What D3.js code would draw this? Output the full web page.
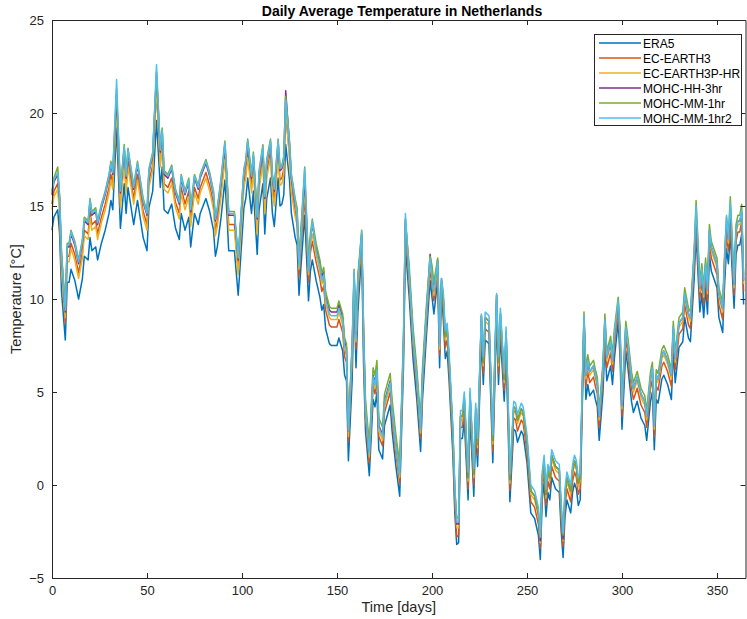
<!DOCTYPE html>
<html><head><meta charset="utf-8">
<script src="https://cdn.jsdelivr.net/npm/d3@7/dist/d3.min.js"></script>
<style>
body{margin:0;background:#fff;}
text{font-family:"Liberation Sans",Arial,sans-serif;}
</style></head>
<body><svg id="c" width="747" height="619"></svg>
<script>
const days = [0,1,3,4,5,7,8,9,10,12,14,16,17,19,20,21,23,24,26,28,30,31,32,34,36,38,39,40,43,45,48,50,51,53,55,57,58,59,61,63,65,67,68,70,72,73,75,77,78,81,83,85,86,87,89,91,92,93,96,98,100,101,102,103,105,106,108,109,111,112,113,115,116,117,119,120,121,122,123,125,126,128,
129,130,131,133,135,136,137,139,141,142,143,144,146,147,150,151,153,154,155,156,158,159,160,161,163,164,
165,167,169,170,171,172,174,175,178,179,181,183,185,186,188,190,192,194,195,197,199,200,201,203,204,
205,206,207,208,209,211,212,213,214,215,216,217,219,220,221,222,223,224,226,227,228,230,232,233,234,235,236,238,239,240,241,243,244,245,247,248,250,252,254,256,257,258,259,260,261,262,263,265,267,268,269,270,271,273,274,275,276,277,278,
280,281,282,283,285,286,287,288,290,291,292,294,295,296,298,299,300,302,303,305,306,308,310,311,312,313,315,316,317,318,319,321,322,324,326,327,328,330,332,333,335,336,338,339,341,342,343,344,345,346,347,350,351,353,354,355,356,357,359,360,361,362,363,364];

const era5 = [13.7,14.4,14.8,13.5,10.4,7.8,10.9,10.9,11.6,11.0,10.0,11.1,12.3,12.1,13.3,12.6,12.8,12.1,13.0,13.7,14.6,15.3,14.8,19.2,13.8,16.2,14.6,16.0,14.0,15.3,13.3,12.6,14.9,15.8,19.6,16.0,17.1,14.8,14.6,15.1,13.8,13.2,14.6,13.7,14.4,12.8,14.6,14.0,14.6,15.4,14.7,13.7,12.3,12.8,14.4,16.4,14.7,12.6,12.6,10.2,13.3,14.9,15.4,16.5,14.6,15.8,12.4,14.8,16.2,13.5,15.4,16.5,14.6,13.9,16.5,15.0,15.1,15.6,18.3,16.4,14.6,13.3,
12.9,10.2,11.7,14.5,9.9,11.5,12.1,11.0,10.1,9.4,9.7,8.4,7.6,7.5,7.5,7.9,7.2,5.9,5.6,1.3,5.7,10.5,6.3,9.3,12.6,6.4,
2.9,0.5,4.6,4.2,5.0,1.9,1.4,3.2,4.3,2.9,1.0,-0.6,6.4,12.8,10.1,6.8,4.6,1.8,4.6,7.9,11.0,10.1,9.2,11.0,6.3,
10.5,8.8,6.8,7.2,5.6,1.6,-1.5,-3.2,-3.1,2.5,2.5,3.5,-0.8,3.7,1.6,-0.6,2.9,1.0,7.9,5.4,7.8,7.6,1.2,5.2,9.0,5.4,8.0,4.5,7.0,3.4,-0.9,3.0,2.9,2.3,2.9,2.7,1.2,-1.5,-1.8,-2.7,-4.0,-0.8,0.1,-1.7,-0.4,-0.8,0.4,-0.2,-0.4,-2.5,-3.9,-1.7,-0.8,-1.5,-0.4,0.1,-0.2,-1.1,-0.8,
8.3,4.6,5.4,4.8,5.1,4.6,4.2,2.4,5.0,7.6,5.6,6.4,5.4,6.8,8.8,6.8,3.0,7.2,6.4,4.5,3.9,4.5,3.6,3.4,3.2,2.4,4.5,5.0,1.9,4.6,4.4,5.7,5.9,5.4,4.6,7.2,5.5,7.4,7.7,9.0,7.9,7.7,11.1,13.5,9.3,10.3,9.0,10.6,9.2,12.4,11.5,10.6,9.0,8.2,10.8,12.7,11.9,13.5,9.5,12.4,12.9,12.9,13.5,9.7];

const ecEarth3 = [15.1,15.8,16.2,14.9,11.8,8.7,12.3,12.3,13.0,12.4,11.4,12.5,13.7,13.5,14.7,14.0,14.2,13.5,14.4,15.1,16.0,16.7,16.2,20.6,15.2,17.6,16.0,17.4,15.4,16.7,14.7,14.0,16.3,17.2,21.2,17.4,18.5,16.2,16.0,16.5,15.2,14.6,16.0,15.1,15.8,14.2,16.0,15.4,16.0,16.8,16.1,15.1,13.7,14.2,15.8,17.8,16.1,14.0,14.0,11.6,14.7,16.3,16.8,17.9,16.0,17.2,13.8,16.2,17.6,14.9,16.8,17.9,16.0,15.3,17.9,16.4,16.5,17.0,19.9,17.8,16.0,14.7,
13.9,11.2,12.7,15.5,10.9,12.5,13.1,12.0,11.1,10.4,10.7,9.4,8.6,8.5,8.5,8.9,8.2,6.9,6.6,2.3,6.7,10.9,7.3,10.3,13.1,7.4,
3.6,1.2,5.3,4.9,5.7,2.6,2.1,3.9,5.0,3.6,1.7,0.1,7.1,13.6,10.8,7.5,5.3,2.5,5.3,8.6,11.6,10.8,9.9,11.6,7.0,
10.8,9.4,7.4,7.8,6.2,2.2,-0.9,-2.8,-2.7,3.1,3.1,4.1,-0.2,4.3,2.2,0.0,3.5,1.6,8.5,6.0,8.4,8.2,1.8,5.8,9.6,6.0,8.6,5.1,7.6,4.0,-0.3,3.6,3.5,2.9,3.5,3.3,1.8,-0.9,-1.2,-2.1,-3.4,-0.2,0.7,-1.1,0.2,-0.2,1.0,0.4,0.2,-1.9,-3.3,-1.1,-0.2,-0.9,0.2,0.7,0.4,-0.5,-0.2,
8.8,5.3,6.1,5.5,5.8,5.3,4.9,3.1,5.7,8.3,6.3,7.1,6.1,7.5,9.4,7.5,3.7,7.9,7.1,5.2,4.6,5.2,4.3,4.1,3.9,3.1,5.2,5.7,2.6,5.3,5.1,6.4,6.6,6.1,5.3,7.9,6.2,8.1,8.4,9.7,8.6,8.4,11.8,14.2,10.0,11.0,9.7,11.3,9.9,13.1,12.2,11.3,9.7,8.9,11.5,13.4,12.6,14.2,10.2,13.1,13.6,13.6,14.2,10.4];

const ecEarth3PHR = [14.8,15.5,15.9,14.6,11.5,9.0,12.0,12.0,12.7,12.1,11.1,12.2,13.4,13.2,14.4,13.7,13.9,13.2,14.1,14.8,15.7,16.4,15.9,20.4,14.9,17.3,15.7,17.1,15.1,16.4,14.4,13.7,16.0,16.9,21.5,17.1,18.2,15.9,15.7,16.2,14.9,14.3,15.7,14.8,15.5,13.9,15.7,15.1,15.7,16.5,15.8,14.8,13.4,13.9,15.5,17.5,15.8,13.7,13.7,11.3,14.4,16.0,16.5,17.6,15.7,16.9,13.5,15.9,17.3,14.6,16.5,17.6,15.7,15.0,17.6,16.1,16.2,16.7,20.3,17.5,15.7,14.4,
14.3,11.6,13.1,16.0,11.3,12.9,13.5,12.4,11.5,10.8,11.1,9.8,9.0,8.9,8.9,9.3,8.6,7.3,7.0,2.6,7.1,11.1,7.7,10.7,13.3,7.8,
3.9,1.5,5.6,5.2,6.0,2.9,2.4,4.2,5.3,3.9,2.0,0.4,7.4,14.0,11.1,7.8,5.6,2.8,5.6,8.9,12.0,11.1,10.2,11.8,7.3,
10.9,9.8,7.8,8.2,6.6,2.6,-0.5,-2.3,-2.3,3.5,3.5,4.5,0.2,4.7,2.6,0.4,3.9,2.0,8.9,6.4,8.8,8.6,2.2,6.2,10.0,6.4,9.0,5.5,8.0,4.4,0.1,4.0,3.9,3.3,3.9,3.7,2.2,-0.5,-0.8,-1.7,-3.1,0.2,1.1,-0.7,0.6,0.2,1.4,0.8,0.6,-1.5,-3.0,-0.7,0.2,-0.5,0.6,1.1,0.8,-0.1,0.2,
8.9,5.7,6.5,5.9,6.2,5.7,5.3,3.5,6.1,8.7,6.7,7.5,6.5,7.9,9.7,7.9,4.1,8.3,7.5,5.6,5.0,5.6,4.7,4.5,4.3,3.5,5.6,6.1,3.0,5.7,5.5,6.8,7.0,6.5,5.7,8.3,6.6,8.5,8.8,10.1,9.0,8.8,12.2,14.5,10.4,11.4,10.1,11.7,10.3,13.5,12.6,11.7,10.1,9.3,11.9,13.8,13.0,14.5,10.6,13.5,14.0,14.0,14.6,10.8];

const mohcHH3hr = [15.6,16.3,16.7,15.4,12.3,9.3,12.8,12.8,13.5,12.9,11.9,13.0,14.2,14.0,15.2,14.5,14.7,14.0,14.9,15.6,16.5,17.2,16.7,21.0,15.7,18.1,16.5,17.9,15.9,17.2,15.2,14.5,16.8,17.7,22.2,17.9,19.0,16.7,16.5,17.0,15.7,15.1,16.5,15.6,16.3,14.7,16.5,15.9,16.5,17.3,16.6,15.6,14.2,14.7,16.3,18.3,16.6,14.5,14.5,12.1,15.2,16.8,17.3,18.4,16.5,17.7,14.3,16.7,18.1,15.4,17.3,18.4,16.5,15.8,18.4,16.9,17.0,17.5,21.2,18.3,16.5,15.2,
14.7,12.0,13.5,16.5,11.7,13.3,14.0,12.8,11.9,11.2,11.5,10.2,9.4,9.3,9.3,9.7,9.0,7.7,7.4,2.9,7.5,11.3,8.1,11.1,13.5,8.2,
4.2,1.8,5.9,5.5,6.3,3.2,2.7,4.5,5.6,4.2,2.3,0.7,7.7,14.3,11.4,8.1,5.9,3.1,5.9,9.2,12.4,11.4,10.5,12.1,7.6,
11.1,10.0,8.0,8.4,6.8,2.8,-0.3,-2.1,-2.1,3.7,3.7,4.7,0.4,4.9,2.8,0.6,4.1,2.2,9.1,6.6,9.0,8.8,2.4,6.4,10.2,6.6,9.2,5.7,8.2,4.6,0.3,4.2,4.1,3.5,4.1,3.9,2.4,-0.3,-0.6,-1.5,-3.0,0.4,1.3,-0.5,0.8,0.4,1.6,1.0,0.8,-1.3,-2.9,-0.5,0.4,-0.3,0.8,1.3,1.0,0.1,0.4,
9.0,5.9,6.7,6.1,6.4,5.9,5.5,3.7,6.3,8.9,6.9,7.7,6.7,8.1,9.8,8.1,4.3,8.5,7.7,5.8,5.2,5.8,4.9,4.7,4.5,3.7,5.8,6.3,3.2,5.9,5.7,7.0,7.2,6.7,5.9,8.5,6.8,8.7,9.0,10.3,9.2,9.0,12.4,14.6,10.6,11.6,10.3,11.9,10.5,13.7,12.8,11.9,10.3,9.5,12.1,14.0,13.2,14.7,10.8,13.7,14.2,14.2,14.6,11.0];

const mohcMM1hr = [15.8,16.5,17.1,15.6,12.5,9.6,13.0,13.0,13.7,13.1,12.1,13.2,14.4,14.2,15.4,14.7,14.9,14.2,15.1,15.8,16.7,17.4,16.9,21.3,15.9,18.3,16.7,18.1,16.1,17.4,15.4,14.7,17.0,17.9,22.0,18.1,19.2,16.9,16.7,17.2,15.9,15.3,16.7,15.8,16.5,14.9,16.7,16.1,16.7,17.5,16.8,15.8,14.4,14.9,16.5,18.5,16.8,14.7,14.7,12.3,15.4,17.0,17.5,18.6,16.7,17.9,14.5,16.9,18.3,15.6,17.5,18.6,16.7,16.0,18.6,17.1,17.2,17.7,20.9,18.5,16.7,15.4,
14.9,12.2,13.7,17.1,11.9,13.5,14.3,13.0,12.1,11.4,11.7,10.4,9.6,9.5,9.5,9.9,9.2,7.9,7.6,3.0,7.7,11.6,8.3,11.3,13.7,8.4,
4.6,2.2,6.3,5.9,6.7,3.6,3.1,4.9,6.0,4.6,2.7,1.1,8.1,14.2,11.8,8.5,6.3,3.5,6.3,9.6,12.3,11.8,10.9,12.2,8.0,
11.0,10.0,8.0,8.4,6.8,2.8,-0.3,-1.7,-1.8,3.7,3.7,4.7,0.4,4.9,2.8,0.6,4.1,2.2,9.1,6.6,9.0,8.8,2.4,6.4,10.2,6.6,9.2,5.7,8.2,4.6,0.3,4.2,4.1,3.5,4.1,3.9,2.4,-0.3,-0.6,-1.5,-2.8,0.4,1.3,-0.5,0.8,0.4,1.6,1.0,0.8,-1.3,-2.7,-0.5,0.4,-0.3,0.8,1.3,1.0,0.1,0.4,
9.3,6.2,7.0,6.4,6.7,6.2,5.8,4.0,6.6,9.2,7.2,8.0,7.0,8.4,10.1,8.4,4.6,8.8,8.0,6.1,5.5,6.1,5.2,5.0,4.8,4.0,6.1,6.6,3.5,6.2,6.0,7.3,7.5,7.0,6.2,8.8,7.1,9.0,9.3,10.6,9.5,9.3,12.7,15.3,10.9,11.9,10.6,12.2,10.8,14.0,13.1,12.2,10.6,9.8,12.4,14.4,13.5,15.5,11.1,14.0,14.5,14.5,15.1,11.3];

const mohcMM1hr2 = [15.7,16.4,16.8,15.5,12.4,9.4,12.9,12.9,13.6,13.0,12.0,13.1,14.3,14.1,15.3,14.6,14.8,14.1,15.0,15.7,16.6,17.3,16.8,21.8,15.8,18.2,16.6,18.0,16.0,17.3,15.3,14.6,16.9,17.8,22.6,18.0,19.1,16.8,16.6,17.1,15.8,15.2,16.6,15.7,16.4,14.8,16.6,16.0,16.6,17.4,16.7,15.7,14.3,14.8,16.4,18.4,16.7,14.6,14.6,12.2,15.3,16.9,17.4,18.5,16.6,17.8,14.4,16.8,18.2,15.5,17.4,18.5,16.6,15.9,18.5,17.0,17.1,17.6,20.7,18.4,16.6,15.3,
14.5,11.8,13.3,17.0,11.5,13.1,14.2,12.6,11.7,11.0,11.3,10.0,9.2,9.1,9.1,9.5,8.8,7.5,7.2,2.9,7.3,11.5,7.9,10.9,13.6,8.0,
4.1,1.7,5.8,5.4,6.2,3.1,2.6,4.4,5.5,4.1,2.2,0.6,7.6,14.6,11.3,8.0,5.8,3.0,5.8,9.1,12.2,11.3,10.4,12.0,7.5,
11.1,10.3,8.3,8.7,7.1,3.1,0.0,-2.0,-2.0,4.0,4.0,5.0,0.7,5.2,3.1,0.9,4.4,2.5,9.2,6.9,9.3,9.1,2.7,6.7,10.3,6.9,9.5,6.0,8.5,4.9,0.6,4.5,4.4,3.8,4.4,4.2,2.7,0.0,-0.3,-1.2,-2.8,0.7,1.6,-0.2,1.1,0.7,1.9,1.3,1.1,-1.0,-2.6,-0.2,0.7,0.0,1.1,1.6,1.3,0.4,0.7,
9.1,5.9,6.7,6.1,6.4,5.9,5.5,3.7,6.3,8.9,6.9,7.7,6.7,8.1,9.9,8.1,4.3,8.5,7.7,5.8,5.2,5.8,4.9,4.7,4.5,3.7,5.8,6.3,3.2,5.9,5.7,7.0,7.2,6.7,5.9,8.5,6.8,8.7,9.0,10.3,9.2,9.0,12.4,15.0,10.6,11.6,10.3,11.9,10.5,13.7,12.8,11.9,10.3,9.5,12.1,14.5,13.2,15.2,10.8,13.7,14.2,14.2,14.8,11.0];

const seriesNames = ["ERA5","EC-EARTH3","EC-EARTH3P-HR","MOHC-HH-3hr","MOHC-MM-1hr","MOHC-MM-1hr2"];
const seriesValues = [era5, ecEarth3, ecEarth3PHR, mohcHH3hr, mohcMM1hr, mohcMM1hr2];
const seriesColors = ["#0072BD","#D95319","#EDB120","#7E2F8E","#77AC30","#4DBEEE"];
const xTicks = [0,50,100,150,200,250,300,350];
const yTicks = [-5,0,5,10,15,20,25];
const titleText = "Daily Average Temperature in Netherlands";
const xLabel = "Time [days]";
const yLabel = "Temperature [\u00B0C]";

const svg = d3.select("#c");
const L = 52, R = 745.5, T = 20, B = 578;
const x = d3.scaleLinear().domain([0, 365]).range([L, R]);
const y = d3.scaleLinear().domain([-5, 25]).range([B, T]);
const axCol = "#262626";

svg.append("rect").attr("x",0).attr("y",0).attr("width",747).attr("height",619).attr("fill","#fff");

const line = d3.line().x((d,i)=>x(days[i])).y(d=>y(d));
const g = svg.append("g");
seriesValues.forEach((vals,k)=>{
  g.append("path").datum(vals).attr("d",line)
   .attr("fill","none").attr("stroke",seriesColors[k]).attr("stroke-width",1.5)
   .attr("stroke-linejoin","round");
});

const xa = svg.append("g").attr("transform",`translate(0,${B})`)
  .call(d3.axisBottom(x).tickValues(xTicks).tickSizeInner(-5).tickSizeOuter(0).tickPadding(8));
const xt = svg.append("g").attr("transform",`translate(0,${T})`)
  .call(d3.axisTop(x).tickValues(xTicks).tickSizeInner(-5).tickSizeOuter(0).tickFormat(""));
const ya = svg.append("g").attr("transform",`translate(${L},0)`)
  .call(d3.axisLeft(y).tickValues(yTicks).tickSizeInner(-5).tickSizeOuter(0).tickPadding(8));
const yr = svg.append("g").attr("transform",`translate(${R},0)`)
  .call(d3.axisRight(y).tickValues(yTicks).tickSizeInner(-5).tickSizeOuter(0).tickFormat(""));
[xa,xt,ya,yr].forEach(a=>{
  a.select(".domain").attr("stroke",axCol).attr("stroke-width",1);
  a.selectAll(".tick line").attr("stroke",axCol);
  a.selectAll("text").attr("fill",axCol).style("font-size","13px").style("font-family","'Liberation Sans',Arial,sans-serif");
});

svg.append("text").attr("x",402).attr("y",16).attr("text-anchor","middle")
  .attr("font-weight","bold").attr("font-size",14).attr("fill","#000").text(titleText);
svg.append("text").attr("x",(L+R)/2).attr("y",612).attr("text-anchor","middle")
  .attr("font-size",14.5).attr("fill",axCol).text(xLabel);
svg.append("text").attr("transform",`translate(21,${(T+B)/2}) rotate(-90)`).attr("text-anchor","middle")
  .attr("font-size",14.5).attr("fill",axCol).text(yLabel);

const lg = svg.append("g");
lg.append("rect").attr("x",594.5).attr("y",34.5).attr("width",147).attr("height",91)
  .attr("fill","#fff").attr("stroke",axCol).attr("stroke-width",1);
seriesNames.forEach((n,k)=>{
  const yy = 43 + k*15;
  lg.append("line").attr("x1",599).attr("x2",641).attr("y1",yy).attr("y2",yy)
    .attr("stroke",seriesColors[k]).attr("stroke-width",1.5);
  lg.append("text").attr("x",643).attr("y",yy+4.5).attr("font-size",12).attr("fill","#000").text(n);
});
</script></body></html>
